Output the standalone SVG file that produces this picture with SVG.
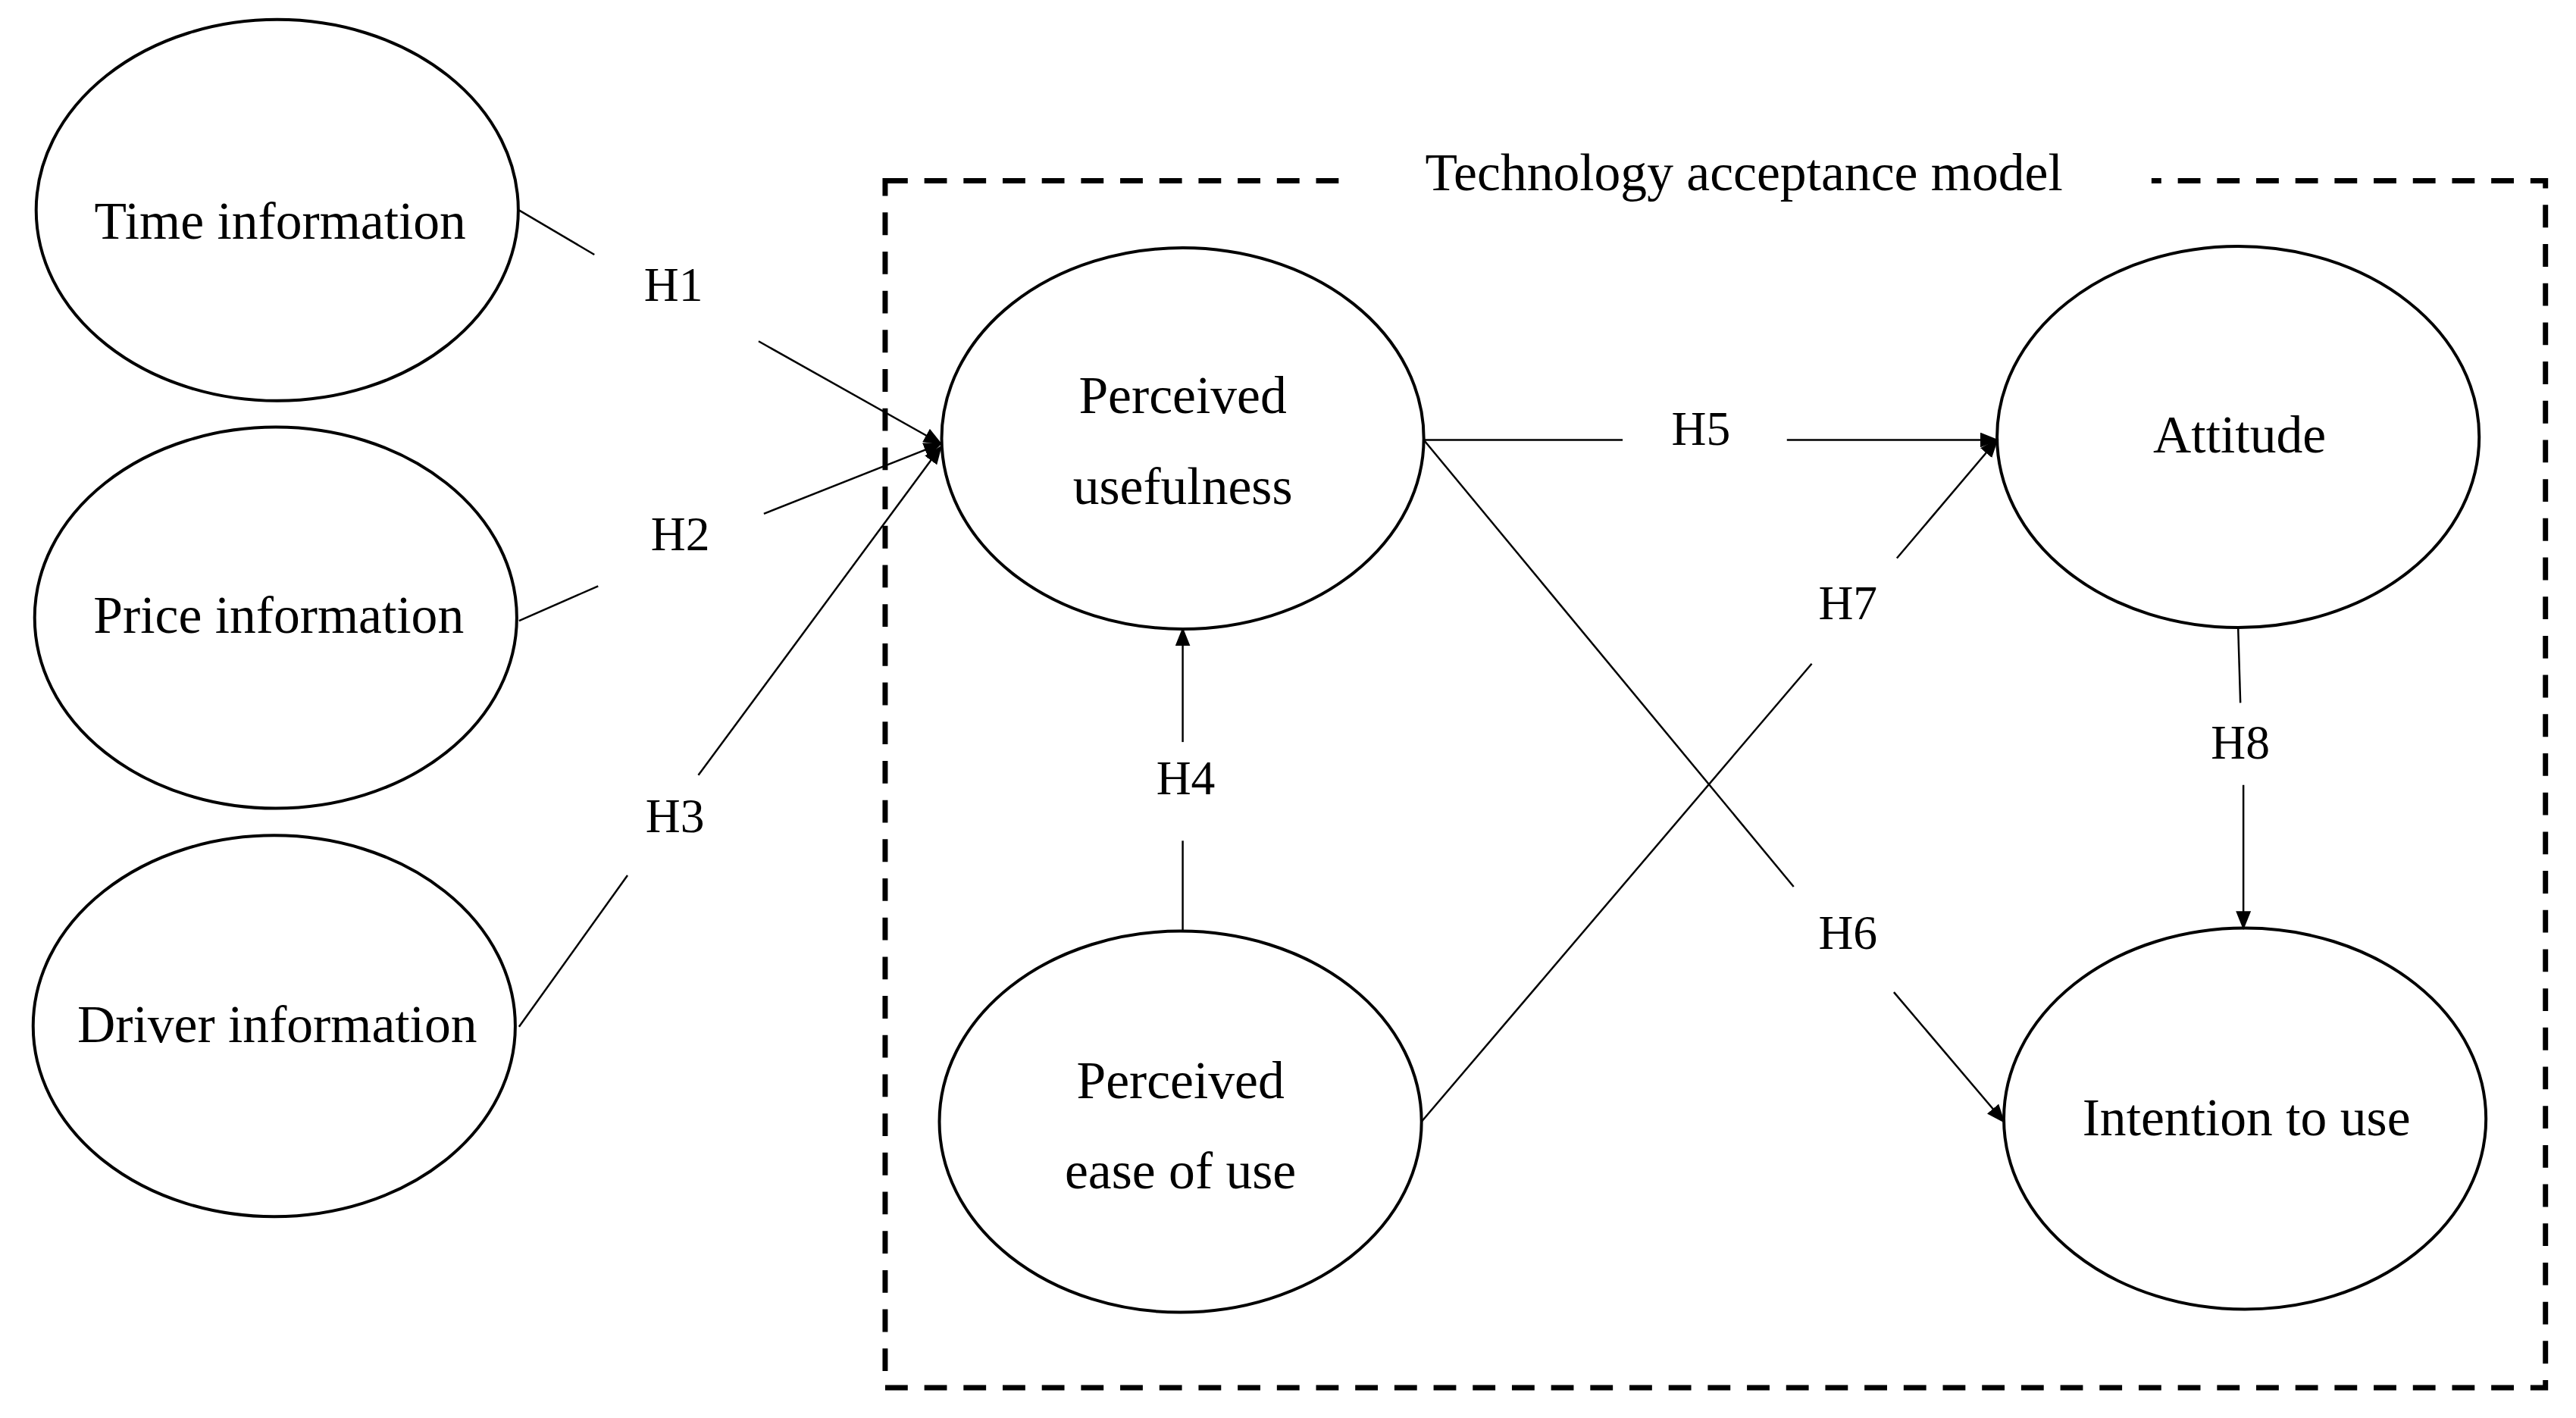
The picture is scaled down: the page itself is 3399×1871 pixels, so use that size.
<svg xmlns="http://www.w3.org/2000/svg" width="3399" height="1871" viewBox="0 0 3399 1871">
<style>
.n{fill:#fff;stroke:#000;stroke-width:4}
text{font-family:"Liberation Serif",serif;font-size:70px;text-anchor:middle;dominant-baseline:central;fill:#000}
.c line{stroke:#000;stroke-width:2.5}
.l{font-size:64px}
</style>
<defs><marker id="a" markerWidth="10" markerHeight="8" refX="9" refY="4" orient="auto" markerUnits="strokeWidth"><path d="M0,0 L10,4 L0,8 z" fill="#000"/></marker></defs>
<g transform="scale(0.994,0.994)">
<rect x="1175" y="240" width="2204" height="1602" fill="none" stroke="#000" stroke-width="7" stroke-dasharray="30,22"/>
<rect x="1790" y="200" width="1066" height="70" fill="#fff"/>
<text x="2315" y="229">Technology acceptance model</text>
<g id="time"><ellipse class="n" cx="368" cy="279" rx="320" ry="253"/><text x="372" y="293">Time information</text></g>
<g id="price"><ellipse class="n" cx="366" cy="820" rx="320" ry="253"/><text x="370" y="816">Price information</text></g>
<g id="driver"><ellipse class="n" cx="364" cy="1362" rx="320" ry="253"/><text x="368" y="1360">Driver information</text></g>
<g id="pu"><ellipse class="n" cx="1570" cy="582" rx="320" ry="253"/><text x="1570" y="525">Perceived</text><text x="1570" y="645">usefulness</text></g>
<g id="peou"><ellipse class="n" cx="1567" cy="1489" rx="320" ry="253"/><text x="1567" y="1434">Perceived</text><text x="1567" y="1554">ease of use</text></g>
<g id="att"><ellipse class="n" cx="2971" cy="580" rx="320" ry="253"/><text x="2973" y="577">Attitude</text></g>
<g id="int"><ellipse class="n" cx="2980" cy="1485" rx="320" ry="253"/><text x="2982" y="1483">Intention to use</text></g>
<g class="c">
<line x1="689" y1="279" x2="789" y2="338"/><line x1="1007" y1="453" x2="1249" y2="589" marker-end="url(#a)"/>
<line x1="689" y1="824" x2="794" y2="778"/><line x1="1014" y1="682" x2="1249" y2="589" marker-end="url(#a)"/>
<line x1="689" y1="1363" x2="833" y2="1162"/><line x1="927" y1="1029" x2="1249" y2="593" marker-end="url(#a)"/>
<line x1="1890" y1="584" x2="2154" y2="584"/><line x1="2372" y1="584" x2="2651" y2="584" marker-end="url(#a)"/>
<line x1="1890" y1="584" x2="2381" y2="1177"/><line x1="2514" y1="1317" x2="2660" y2="1489" marker-end="url(#a)"/>
<line x1="1887" y1="1489" x2="2405" y2="881"/><line x1="2518" y1="741" x2="2651" y2="584" marker-end="url(#a)"/>
<line x1="1570" y1="1236" x2="1570" y2="1116"/><line x1="1570" y1="985" x2="1570" y2="835" marker-end="url(#a)"/>
<line x1="2971" y1="833" x2="2974" y2="933"/><line x1="2978" y1="1042" x2="2978" y2="1232" marker-end="url(#a)"/>
<text class="l" x="894" y="378">H1</text><text class="l" x="903" y="709">H2</text><text class="l" x="896" y="1083">H3</text>
<text class="l" x="1574" y="1033">H4</text><text class="l" x="2258" y="569">H5</text><text class="l" x="2453" y="1238">H6</text>
<text class="l" x="2453" y="800">H7</text><text class="l" x="2974" y="985">H8</text>
</g>
</g>
</svg>
